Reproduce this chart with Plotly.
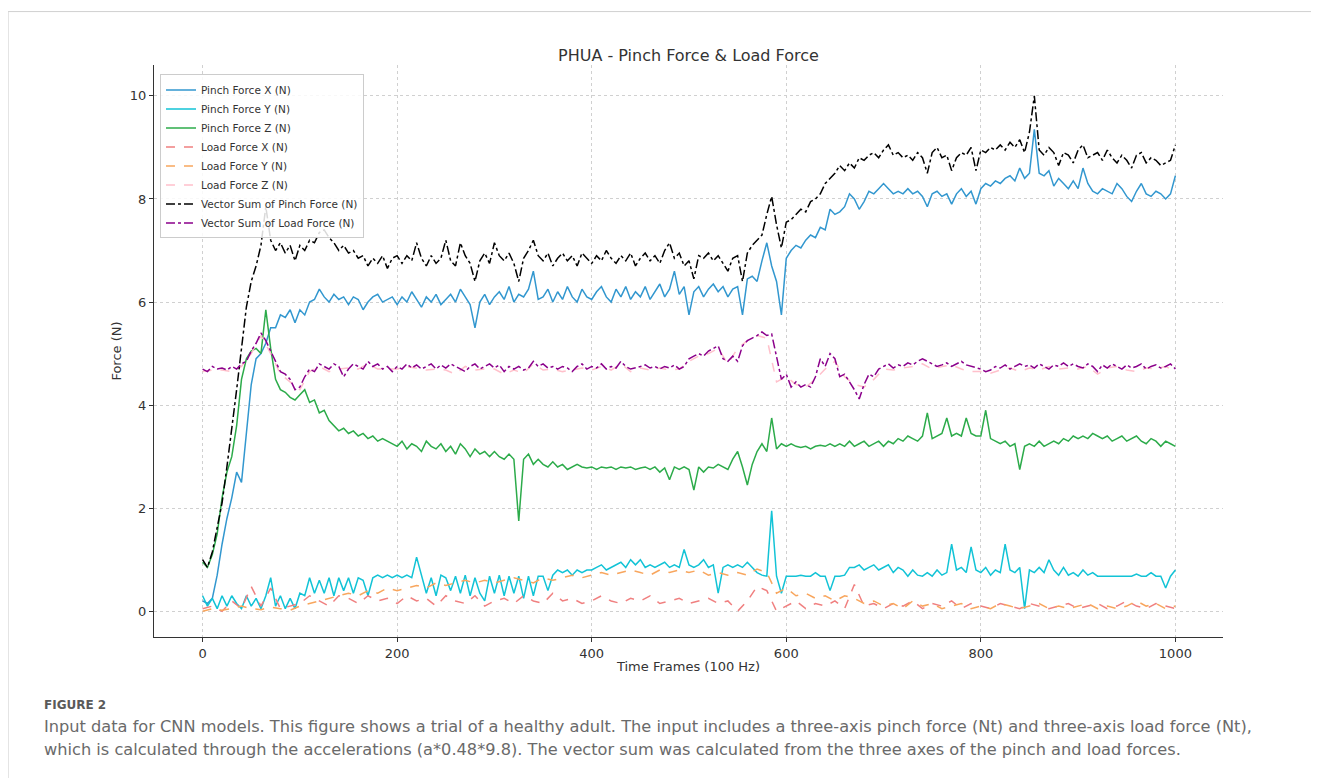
import plotly.graph_objects as go

# ---------------- data ----------------
# main series sampled every 5 frames (0..1000)
vec_pinch = [
    1.0, 0.85, 1.15, 1.6, 2.1, 2.8, 3.5, 4.3, 5.1, 5.9,
    6.4, 6.7, 7.1, 7.85, 7.2, 7.0, 7.15, 6.95, 7.1, 6.8,
    7.1, 7.0, 7.2, 7.15, 7.35, 7.4, 7.25, 7.15, 7.0, 7.1,
    6.95, 7.0, 6.85, 6.9, 6.7, 6.85, 6.75, 6.9, 6.65, 6.85,
    6.9, 6.75, 6.9, 6.8, 7.15, 6.85, 6.7, 6.9, 6.75, 6.85,
    7.2, 6.8, 6.7, 7.15, 6.9, 6.75, 6.4, 6.8, 6.95, 6.75,
    7.15, 6.9, 6.8, 6.95, 6.75, 6.4, 6.85, 7.0, 7.2, 6.9,
    6.8, 6.95, 6.7, 6.85, 6.95, 6.8, 6.9, 6.7, 6.95, 6.85,
    6.75, 6.9, 6.8, 7.0, 6.85, 6.75, 6.9, 6.8, 6.95, 6.7,
    6.85, 6.95, 6.8, 6.9, 6.75, 7.0, 7.15, 6.85, 6.95, 6.7,
    6.8, 6.45, 6.9, 6.85, 6.95, 6.8, 6.9, 6.75, 6.6, 6.85,
    6.9, 6.4, 6.95, 7.1, 7.2, 7.3, 7.7, 8.05, 7.5, 7.05,
    7.55, 7.6, 7.7, 7.8, 7.75, 7.95, 8.0, 8.1, 8.3, 8.4,
    8.5, 8.65, 8.55, 8.7, 8.6, 8.8, 8.75, 8.85, 8.9, 8.8,
    8.95, 9.05, 8.85, 8.9, 8.8, 8.85, 8.75, 8.9, 8.8, 8.5,
    8.9, 9.0, 8.8, 8.85, 8.55, 8.8, 8.9, 8.85, 9.0, 8.55,
    8.95, 8.9, 9.0, 8.95, 9.05, 8.95, 9.1, 9.0, 9.15, 8.9,
    9.3, 10.0, 8.95, 8.85, 9.0, 8.9, 8.65, 8.9, 8.85, 8.7,
    8.95, 9.05, 8.8, 8.85, 8.9, 8.75, 8.95, 8.8, 8.7, 8.85,
    8.75, 8.6, 8.85, 8.9, 8.7, 8.8, 8.75, 8.65, 8.7, 8.75,
    9.05,
]

pinch_x = [
    0.2, 0.15, 0.25, 0.7, 1.3, 1.8, 2.2, 2.7, 2.5, 3.5,
    4.4, 4.9, 5.0, 5.2, 5.5, 5.5, 5.75, 5.7, 5.85, 5.6,
    5.85, 5.75, 6.0, 6.05, 6.25, 6.1, 6.0, 6.15, 6.05, 6.1,
    5.95, 6.1, 6.05, 5.85, 6.0, 6.1, 6.15, 6.0, 6.05, 6.1,
    5.95, 6.1, 6.0, 6.2, 6.05, 5.9, 6.1, 6.0, 6.15, 5.95,
    6.05, 6.15, 6.0, 6.25, 6.1, 5.95, 5.5, 6.0, 6.15, 5.95,
    6.1, 6.2, 6.05, 6.3, 6.0, 6.15, 6.1, 6.25, 6.6, 6.05,
    6.1, 6.25, 6.0, 6.2, 6.05, 6.3, 6.1, 6.0, 6.25, 6.1,
    6.05, 6.2, 6.3, 6.1, 6.0, 6.25, 6.1, 6.3, 6.05, 6.2,
    6.1, 6.3, 6.05, 6.2, 6.35, 6.1, 6.25, 6.6, 6.15, 6.3,
    5.75, 6.2, 6.3, 6.1, 6.25, 6.35, 6.2, 6.3, 6.1, 6.25,
    6.3, 5.75, 6.45, 6.5, 6.4, 6.8, 7.15, 6.7, 6.4, 5.75,
    6.85, 7.0, 7.1, 7.05, 7.2, 7.3, 7.25, 7.45, 7.4, 7.8,
    7.7, 7.75, 7.85, 8.1, 8.0, 7.8, 7.95, 8.15, 8.1, 8.2,
    8.3, 8.2, 8.1, 8.15, 8.1, 8.2, 8.1, 8.15, 8.05, 7.85,
    8.1, 8.15, 8.05, 8.1, 7.9, 8.1, 8.2, 8.05, 8.15, 7.9,
    8.2, 8.3, 8.25, 8.35, 8.3, 8.4, 8.45, 8.35, 8.6, 8.4,
    8.5, 9.35, 8.5, 8.45, 8.55, 8.25, 8.4, 8.3, 8.2, 8.35,
    8.2, 8.6, 8.3, 8.15, 8.1, 8.2, 8.15, 8.1, 8.3, 8.2,
    8.05, 7.95, 8.15, 8.3, 8.1, 8.05, 8.15, 8.1, 8.0, 8.1,
    8.45,
]

pinch_z = [
    0.95, 0.85, 1.1, 1.5, 2.2, 2.7, 3.0, 3.6, 4.5, 4.9,
    5.05, 5.1, 5.0, 5.85, 5.1, 4.5, 4.3, 4.25, 4.15, 4.1,
    4.2, 4.3, 4.05, 4.1, 3.85, 3.9, 3.7, 3.6, 3.5, 3.55,
    3.45, 3.5, 3.4, 3.45, 3.35, 3.4, 3.3, 3.35, 3.3, 3.25,
    3.2, 3.3, 3.15, 3.25, 3.2, 3.1, 3.3, 3.2, 3.15, 3.25,
    3.1, 3.2, 3.05, 3.25, 3.15, 3.0, 3.15, 3.05, 3.1, 3.0,
    3.1, 3.0, 2.95, 3.05, 2.95, 1.75, 2.95, 3.05, 2.85, 2.95,
    2.85, 2.8, 2.9, 2.8, 2.85, 2.75, 2.8, 2.85, 2.8, 2.78,
    2.8, 2.75, 2.8, 2.78, 2.8, 2.75, 2.8, 2.78, 2.8, 2.75,
    2.78, 2.8, 2.75, 2.8, 2.7, 2.78, 2.55, 2.8, 2.75, 2.8,
    2.75, 2.35, 2.8, 2.7, 2.8, 2.78, 2.85, 2.8, 2.75, 2.95,
    3.1, 2.8, 2.45, 2.85, 3.1, 3.25, 3.1, 3.75, 3.15, 3.25,
    3.2, 3.25, 3.2, 3.18, 3.2, 3.15, 3.2, 3.22, 3.2, 3.25,
    3.2, 3.25, 3.2, 3.3, 3.2, 3.25, 3.3, 3.2, 3.25, 3.3,
    3.2, 3.3, 3.25, 3.35, 3.3, 3.4, 3.35, 3.3, 3.4, 3.85,
    3.35, 3.4, 3.45, 3.75, 3.4, 3.45, 3.4, 3.75, 3.45, 3.4,
    3.4, 3.9, 3.35, 3.3, 3.25, 3.3, 3.2, 3.25, 2.75, 3.2,
    3.25, 3.2, 3.3, 3.2, 3.25, 3.3, 3.25, 3.35, 3.3, 3.4,
    3.35, 3.4, 3.35, 3.45, 3.4, 3.35, 3.4, 3.3, 3.35, 3.4,
    3.3, 3.35, 3.4, 3.3, 3.25, 3.35, 3.3, 3.2, 3.3, 3.25,
    3.2,
]

pinch_y = [
    0.3, 0.1, 0.25, 0.05, 0.3, 0.1, 0.3, 0.15, 0.05, 0.3,
    0.1, 0.25, 0.05, 0.3, 0.65, 0.1, 0.3, 0.05, 0.25, 0.05,
    0.35, 0.3, 0.65, 0.35, 0.6, 0.35, 0.65, 0.3, 0.65, 0.4,
    0.65, 0.35, 0.65, 0.6, 0.3, 0.65, 0.7, 0.65, 0.7, 0.65,
    0.7, 0.65, 0.7, 0.65, 1.05, 0.7, 0.35, 0.65, 0.3, 0.7,
    0.65, 0.4, 0.68, 0.35, 0.7, 0.3, 0.65, 0.35, 0.2, 0.68,
    0.35, 0.7, 0.3, 0.68, 0.35, 0.68, 0.25, 0.68, 0.3, 0.68,
    0.68, 0.4, 0.7, 0.8, 0.75, 0.8, 0.7, 0.8, 0.75, 0.8,
    0.8, 0.85, 0.9, 0.8, 0.85, 0.9, 0.95, 0.85, 1.0, 0.9,
    1.0, 0.85, 0.9, 0.85, 0.9, 0.95, 0.85, 0.9, 0.85, 1.2,
    0.9, 0.85, 0.9, 1.0, 0.85, 0.9, 0.35, 0.85, 0.9, 0.85,
    0.9, 0.85, 0.95, 0.85, 0.75, 0.7, 0.68, 1.95, 0.68, 0.35,
    0.68, 0.68, 0.68, 0.7, 0.68, 0.68, 0.75, 0.68, 0.68, 0.4,
    0.68, 0.68, 0.7, 0.85, 0.85, 0.9, 0.8, 0.85, 0.9, 0.8,
    0.85, 0.9, 0.75, 0.85, 0.8, 0.68, 0.8, 0.7, 0.68, 0.75,
    0.68, 0.8, 0.7, 0.75, 1.3, 0.8, 0.85, 0.75, 1.25, 0.8,
    0.75, 0.85, 0.7, 0.8, 0.75, 1.3, 0.8, 0.75, 0.85, 0.05,
    0.8, 0.75, 0.85, 0.75, 1.0, 0.8, 0.7, 0.85, 0.7, 0.75,
    0.68, 0.8, 0.7, 0.75, 0.68, 0.68, 0.68, 0.68, 0.68, 0.68,
    0.68, 0.68, 0.72, 0.68, 0.68, 0.75, 0.68, 0.68, 0.45, 0.68,
    0.8,
]

vec_load = [
    4.7, 4.65, 4.75, 4.7, 4.72, 4.68, 4.75, 4.7, 4.8, 4.85,
    5.05, 5.2, 5.4, 5.25, 5.05, 4.85, 4.65, 4.6, 4.5, 4.3,
    4.35, 4.55, 4.7, 4.65, 4.8, 4.75, 4.7, 4.8, 4.75, 4.55,
    4.7, 4.8, 4.75, 4.7, 4.85, 4.75, 4.8, 4.7, 4.75, 4.65,
    4.75, 4.7, 4.8, 4.72, 4.78, 4.7, 4.75, 4.8, 4.7, 4.78,
    4.72, 4.8, 4.75, 4.7, 4.65, 4.75, 4.8, 4.7, 4.75, 4.8,
    4.72, 4.78, 4.65, 4.75, 4.7, 4.75, 4.68, 4.72, 4.85, 4.75,
    4.8, 4.72, 4.75, 4.7, 4.75, 4.72, 4.65, 4.75, 4.8, 4.7,
    4.75, 4.72, 4.8, 4.7, 4.75, 4.72, 4.85, 4.75, 4.7, 4.72,
    4.75, 4.78, 4.72, 4.75, 4.7, 4.75, 4.72, 4.78, 4.7, 4.75,
    4.9, 4.95, 5.0, 4.95, 5.05, 5.1, 5.15, 4.9, 4.85, 4.95,
    4.85, 5.15, 5.25, 5.3, 5.35, 5.42, 5.35, 5.38, 4.95, 4.5,
    4.6, 4.35, 4.45, 4.35, 4.4, 4.35, 4.55, 4.9, 4.75, 5.0,
    4.9, 4.55, 4.6, 4.45, 4.3, 4.12, 4.4, 4.6, 4.55, 4.7,
    4.75, 4.8, 4.72, 4.78, 4.75, 4.82, 4.78, 4.85, 4.9, 4.85,
    4.8, 4.75, 4.78, 4.82, 4.75, 4.8, 4.85, 4.78, 4.75, 4.72,
    4.7, 4.65, 4.68, 4.75, 4.72, 4.78, 4.7, 4.75, 4.8, 4.75,
    4.78, 4.72, 4.8, 4.75, 4.7, 4.78, 4.75, 4.82, 4.75, 4.8,
    4.75, 4.72, 4.8, 4.75, 4.65, 4.78, 4.72, 4.8, 4.75, 4.7,
    4.78, 4.72, 4.75, 4.8, 4.7, 4.75, 4.78, 4.72, 4.75, 4.8,
    4.7,
]

# load force axes sampled every 10 frames (0..1000)
load_x = [
    0.05, 0.1, 0.0, 0.2, 0.05, 0.48, 0.1, 0.45, 0.05, 0.1,
    0.15, 0.3, 0.2, 0.1, 0.3, 0.25, 0.15, 0.3, 0.2, 0.25,
    0.15, 0.3, 0.2, 0.25, 0.1, 0.3, 0.2, 0.15, 0.3, 0.1,
    0.2, 0.25, 0.15, 0.3, 0.2, 0.15, 0.35, 0.2, 0.25, 0.15,
    0.2, 0.3, 0.2, 0.15, 0.25, 0.2, 0.3, 0.15, 0.2, 0.25,
    0.15, 0.2, 0.25, 0.15, 0.2, 0.0, 0.2, 0.48, 0.4, 0.0,
    0.1, 0.2, 0.05, 0.15, 0.1, 0.2, 0.05, 0.52, 0.1, 0.15,
    0.05, 0.15, 0.1, 0.2, 0.05, 0.15, 0.1, 0.2, 0.05, 0.15,
    0.1, 0.05, 0.15, 0.1, 0.05, 0.15, 0.1, 0.05, 0.1, 0.15,
    0.05, 0.1, 0.15, 0.05, 0.1, 0.2, 0.1, 0.05, 0.15, 0.1,
    0.05,
]

load_y = [
    0.0, 0.05, 0.02, 0.05, 0.1, 0.05, 0.03, 0.08, 0.05, 0.02,
    0.1, 0.15, 0.2, 0.25, 0.3, 0.35, 0.3, 0.4, 0.35, 0.45,
    0.4, 0.45, 0.5, 0.45, 0.55, 0.5, 0.55, 0.6, 0.55, 0.6,
    0.55, 0.6, 0.65, 0.6, 0.55, 0.65, 0.6, 0.65, 0.7, 0.65,
    0.7, 0.75, 0.7, 0.75, 0.8, 0.75, 0.7, 0.8, 0.75, 0.8,
    0.75, 0.8, 0.7, 0.75, 0.7, 0.75, 0.7, 0.82, 0.75, 0.35,
    0.45, 0.3, 0.35, 0.25, 0.3, 0.2, 0.3, 0.25, 0.15, 0.2,
    0.1, 0.15, 0.05, 0.2, 0.1, 0.15, 0.05, 0.1, 0.15, 0.05,
    0.1, 0.05, 0.15, 0.1, 0.05, 0.1, 0.15, 0.05, 0.1, 0.05,
    0.1, 0.15, 0.05, 0.1, 0.05, 0.1, 0.2, 0.1, 0.15, 0.05,
    0.1,
]

load_z = [
    4.65, 4.68, 4.68, 4.65, 4.75, 5.0, 5.35, 5.0, 4.6, 4.45,
    4.3, 4.65, 4.75, 4.65, 4.7, 4.72, 4.7, 4.8, 4.7, 4.7,
    4.7, 4.75, 4.72, 4.68, 4.7, 4.68, 4.6, 4.75, 4.68, 4.7,
    4.7, 4.6, 4.68, 4.62, 4.8, 4.68, 4.7, 4.65, 4.68, 4.72,
    4.68, 4.75, 4.68, 4.8, 4.65, 4.72, 4.68, 4.72, 4.68, 4.7,
    4.85, 4.95, 5.0, 5.1, 4.8, 5.1, 5.25, 5.35, 5.3, 4.45,
    4.55, 4.4, 4.35, 4.5, 4.7, 4.85, 4.55, 4.4, 4.35, 4.5,
    4.7, 4.68, 4.72, 4.75, 4.8, 4.7, 4.75, 4.78, 4.7, 4.65,
    4.65, 4.62, 4.68, 4.72, 4.65, 4.72, 4.68, 4.75, 4.7, 4.72,
    4.7, 4.75, 4.6, 4.72, 4.75, 4.68, 4.65, 4.72, 4.7, 4.75,
    4.65,
]

frames5 = [5 * i for i in range(len(vec_pinch))]
frames10 = [10 * i for i in range(len(load_x))]

x_ticks = [0, 200, 400, 600, 800, 1000]
y_ticks = [0, 2, 4, 6, 8, 10]

# ---------------- figure ----------------
fig = go.Figure()

def add(x, y, name, color, dash, width=1.5):
    fig.add_trace(go.Scatter(x=x, y=y, mode="lines", name=name,
                             line=dict(color=color, dash=dash, width=width)))

add(frames5, pinch_x, "Pinch Force X (N)", "#3297cf", "solid")
add(frames5, pinch_y, "Pinch Force Y (N)", "#12c3d6", "solid")
add(frames5, pinch_z, "Pinch Force Z (N)", "#2cab4a", "solid")
add(frames10, load_x, "Load Force X (N)", "#f08080", "dash")
add(frames10, load_y, "Load Force Y (N)", "#f8a65e", "dash")
add(frames10, load_z, "Load Force Z (N)", "#ffc0cb", "dash")
add(frames5, vec_pinch, "Vector Sum of Pinch Force (N)", "#000000", "dashdot")
add(frames5, vec_load, "Vector Sum of Load Force (N)", "#8b008b", "dashdot")

# the html body has an 8 px margin; positions below are screen pixels of the reference
OFF = 8
W, H = 1319 - OFF, 778 - OFF
L, R, T, B = 154, 1223.5, 64.5, 637.5
def px(xp):
    return (xp - L) / (R - L)
def py(yp):
    return (B - yp) / (B - T)

chart_font = "DejaVu Sans"
fig.update_layout(
    width=W, height=H,
    margin=dict(l=L - OFF, r=W - (R - OFF), t=T - OFF, b=H - (B - OFF), pad=0),
    paper_bgcolor="white", plot_bgcolor="white",
    font=dict(family=chart_font, size=13, color="#333333"),
    showlegend=True,
    legend=dict(x=px(160), y=py(74), xanchor="left", yanchor="top",
                bgcolor="rgba(255,255,255,0.85)", bordercolor="#cccccc", borderwidth=1,
                font=dict(family=chart_font, size=10.5, color="#333333"),
                tracegroupgap=0, itemwidth=30),
)
fig.update_xaxes(range=[-49.95, 1048.95], tickvals=x_ticks, ticktext=[str(v) for v in x_ticks],
                 showgrid=True, gridcolor="#d0d0d0", griddash="dot", gridwidth=1,
                 showline=True, linecolor="#333333", linewidth=1, zeroline=False,
                 ticks="outside", ticklen=4, tickcolor="#333333",
                 tickfont=dict(size=13, color="#333333"),
                 title=dict(text="Time Frames (100 Hz)", font=dict(size=13, color="#333333"), standoff=2))
fig.update_yaxes(range=[-0.5, 10.6], tickvals=y_ticks, ticktext=[str(v) for v in y_ticks],
                 showgrid=True, gridcolor="#d0d0d0", griddash="dot", gridwidth=1,
                 showline=True, linecolor="#333333", linewidth=1, zeroline=False,
                 ticks="outside", ticklen=4, tickcolor="#333333",
                 tickfont=dict(size=13, color="#333333"),
                 title=dict(text="Force (N)", font=dict(size=13, color="#333333"), standoff=5))

# page frame border (left & top visible)
fig.add_shape(type="rect", xref="paper", yref="paper",
              x0=px(8), x1=px(1340), y0=py(800), y1=py(11),
              line=dict(color="#d0d0d0", width=1), fillcolor="rgba(0,0,0,0)", layer="below")

fig.add_annotation(text="PHUA - Pinch Force & Load Force", xref="paper", yref="paper",
                   x=0.5, y=py(55), xanchor="center", yanchor="middle", showarrow=False,
                   font=dict(family=chart_font, size=16, color="#333333"))

cap_font = "DejaVu Sans"
fig.add_annotation(text="<b>FIGURE 2</b>", xref="paper", yref="paper",
                   x=px(42), y=py(706), xanchor="left", yanchor="middle", showarrow=False,
                   font=dict(family=cap_font, size=12, color="#5a5a5a"))
fig.add_annotation(text="Input data for CNN models. This figure shows a trial of a healthy adult. The input includes a three-axis pinch force (Nt) and three-axis load force (Nt),",
                   xref="paper", yref="paper", x=px(42), y=py(727), xanchor="left", yanchor="middle",
                   showarrow=False, font=dict(family=cap_font, size=16.2, color="#6a6a6a"))
fig.add_annotation(text="which is calculated through the accelerations (a*0.48*9.8). The vector sum was calculated from the three axes of the pinch and load forces.",
                   xref="paper", yref="paper", x=px(42), y=py(750), xanchor="left", yanchor="middle",
                   showarrow=False, font=dict(family=cap_font, size=16.2, color="#6a6a6a"))

fig.write_html("out.html")
